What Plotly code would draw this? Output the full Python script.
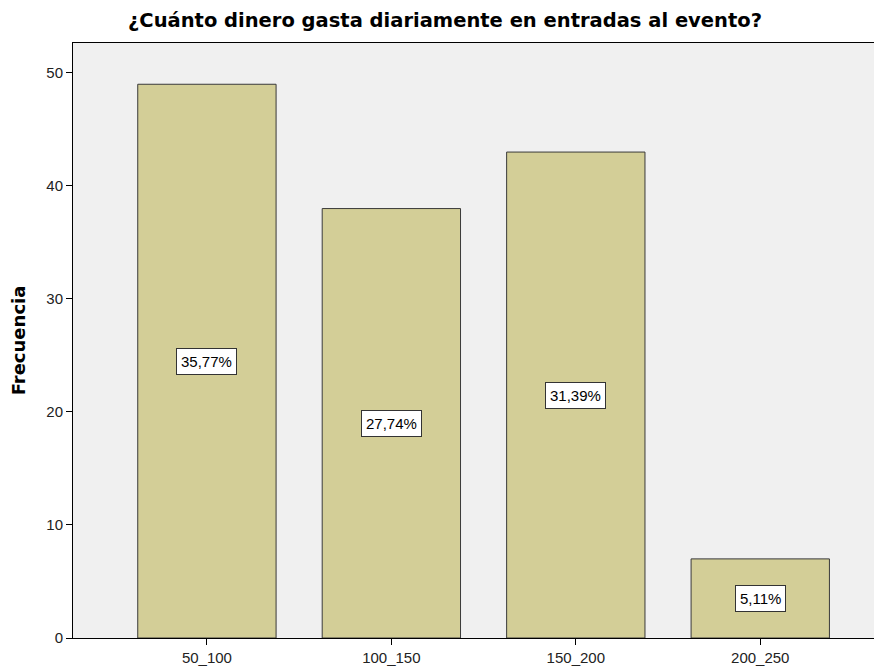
import plotly.graph_objects as go

categorias = ["50_100", "100_150", "150_200", "200_250"]
frecuencias = [49, 38, 43, 7]
porcentajes = ["35,77%", "27,74%", "31,39%", "5,11%"]

fig = go.Figure(data=go.Bar(
    x=categorias,
    y=frecuencias,
    width=0.75,
    marker=dict(color="#D3CE97", line=dict(color="#3a3a3a", width=1)),
    hoverinfo="skip",
))

for cat, val, pct in zip(categorias, frecuencias, porcentajes):
    fig.add_annotation(
        x=cat, y=val / 2, text=pct, showarrow=False,
        bgcolor="white", bordercolor="#333333", borderwidth=1, borderpad=4,
        font=dict(family="Liberation Sans, Arial", size=15, color="black"),
    )

fig.update_xaxes(
    range=[-0.726, 3.66],
    showgrid=False,
    showline=True, linecolor="black", linewidth=1, mirror=True,
    ticks="outside", ticklen=6, tickcolor="black",
    tickfont=dict(family="Liberation Sans, Arial", size=15, color="#222222"),
)

fig.update_yaxes(
    range=[0, 52.65],
    dtick=10,
    showgrid=False,
    zeroline=False,
    showline=True, linecolor="black", linewidth=1,
    ticks="outside", ticklen=6, tickcolor="black",
    tickfont=dict(family="Liberation Sans, Arial", size=15, color="#222222"),
    title=dict(text="<b>Frecuencia</b>", standoff=16,
               font=dict(family="DejaVu Sans", size=18, color="black")),
)

# the page adds an 8px body margin, so the figure is sized to fit inside it
fig.update_layout(
    width=874, height=658,
    title=dict(text="<b>¿Cuánto dinero gasta diariamente en entradas al evento?</b>",
               x=0.5, xanchor="center", yref="container", y=1 - 12 / 658, yanchor="middle",
               font=dict(family="DejaVu Sans", size=19.5, color="black")),
    plot_bgcolor="#F0F0F0",
    paper_bgcolor="white",
    showlegend=False,
    margin=dict(l=65, r=0, t=35, b=28),
)

fig.write_html("out.html")
